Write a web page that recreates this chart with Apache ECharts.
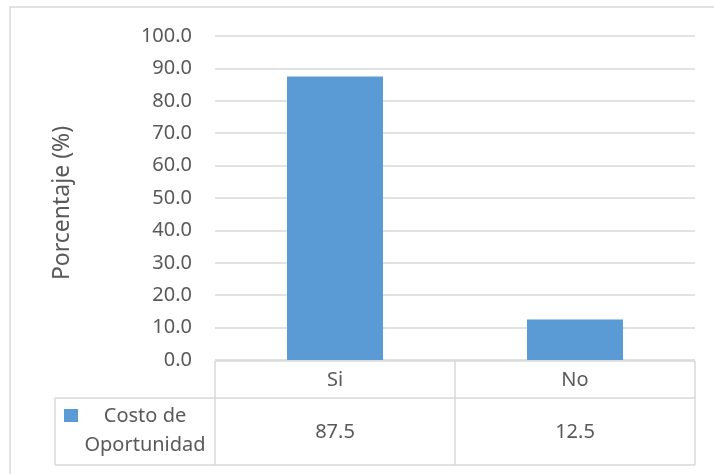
<!DOCTYPE html>
<html>
<head>
<meta charset="utf-8">
<script src="https://cdn.jsdelivr.net/npm/echarts@6/dist/echarts.min.js"></script>
<style>
  html, body { margin: 0; padding: 0; background: #fff; }
  #chart { width: 714px; height: 474px; }
</style>
</head>
<body>
<div id="chart"></div>
<script>
// Survey result: share of respondents per answer
const categories = ['Si', 'No'];
const seriesName = 'Costo de Oportunidad';
const legendLines = ['Costo de', 'Oportunidad'];
const values = [87.5, 12.5];
const yTicks = { min: 0, max: 100, step: 10 };
const yTitle = 'Porcentaje (%)';

const FONT = '"Noto Sans", "Open Sans", sans-serif';
const TEXT = '#595959';
const RULE = '#d9d9d9';
const BAR = '#5b9bd5';

const chart = echarts.init(document.getElementById('chart'), null, { renderer: 'canvas' });

const option = {
  animation: false,
  backgroundColor: '#fff',
  textStyle: { fontFamily: FONT },
  grid: { left: 215, top: 36, width: 480, height: 324, containLabel: false },
  xAxis: [
    {
      type: 'category',
      data: categories,
      axisLine: { show: false },
      axisTick: { show: false },
      axisLabel: { color: TEXT, fontSize: 20, fontFamily: FONT, margin: 9, lineHeight: 22 }
    },
    {
      type: 'category',
      position: 'bottom',
      data: values.map(v => v.toFixed(1)),
      axisLine: { show: false },
      axisTick: { show: false },
      axisLabel: { color: TEXT, fontSize: 20, fontFamily: FONT, margin: 61, lineHeight: 22 }
    }
  ],
  yAxis: {
    type: 'value',
    min: yTicks.min,
    max: yTicks.max,
    interval: yTicks.step,
    axisLine: { show: false },
    axisTick: { show: false },
    axisLabel: {
      color: TEXT, fontSize: 20, fontFamily: FONT, margin: 23,
      formatter: v => v.toFixed(1)
    },
    splitLine: { lineStyle: { color: RULE, width: 1.5 } }
  },
  series: [{
    name: seriesName,
    type: 'bar',
    data: values,
    barWidth: '40%',
    itemStyle: { color: BAR }
  }]
};

chart.setOption(option);

// Data table under the plot, with rule lines placed from the category scale
function buildTable() {
  const yZero = chart.convertToPixel({ yAxisIndex: 0 }, 0);
  const c0 = chart.convertToPixel({ xAxisIndex: 0 }, categories[0]);
  const c1 = chart.convertToPixel({ xAxisIndex: 0 }, categories[1]);
  const band = c1 - c0;
  const edges = [];
  for (let i = 0; i <= categories.length; i++) edges.push(c0 - band / 2 + i * band);

  const headerTop = yZero + 1;
  const rowSplit = headerTop + 37;
  const tableBottom = rowSplit + 67;
  const legendLeft = 55;
  const right = edges[edges.length - 1];
  const lineStyle = { stroke: RULE, lineWidth: 1.5 };
  const els = [];
  const hline = (x1, x2, y) => els.push({ type: 'line', shape: { x1, y1: y, x2, y2: y }, style: lineStyle, silent: true });
  const vline = (x, y1, y2) => els.push({ type: 'line', shape: { x1: x, y1, x2: x, y2 }, style: lineStyle, silent: true });

  hline(edges[0], right, headerTop);
  hline(legendLeft, right, rowSplit);
  hline(legendLeft, right, tableBottom);
  edges.forEach(x => vline(x, headerTop, tableBottom));
  vline(legendLeft, rowSplit, tableBottom);

  // legend key and series name in the left cell
  els.push({ type: 'rect', shape: { x: 64, y: 409, width: 14, height: 13 }, style: { fill: BAR }, silent: true });
  els.push({
    type: 'text', x: 145, y: 431,
    style: {
      text: legendLines.join('\n'), fill: TEXT, font: '20px ' + FONT,
      align: 'center', verticalAlign: 'middle', lineHeight: 29
    },
    silent: true
  });

  // vertical axis title
  els.push({
    type: 'text', x: 62, y: 203, rotation: Math.PI / 2,
    style: {
      text: yTitle, fill: TEXT, font: '23px ' + FONT,
      align: 'center', verticalAlign: 'middle'
    },
    silent: true
  });

  // chart frame
  els.push({ type: 'rect', shape: { x: 10, y: 7, width: 720, height: 480 }, style: { fill: 'none', stroke: RULE, lineWidth: 1.5 }, silent: true });

  chart.setOption({ graphic: els });
}
buildTable();
</script>
</body>
</html>
